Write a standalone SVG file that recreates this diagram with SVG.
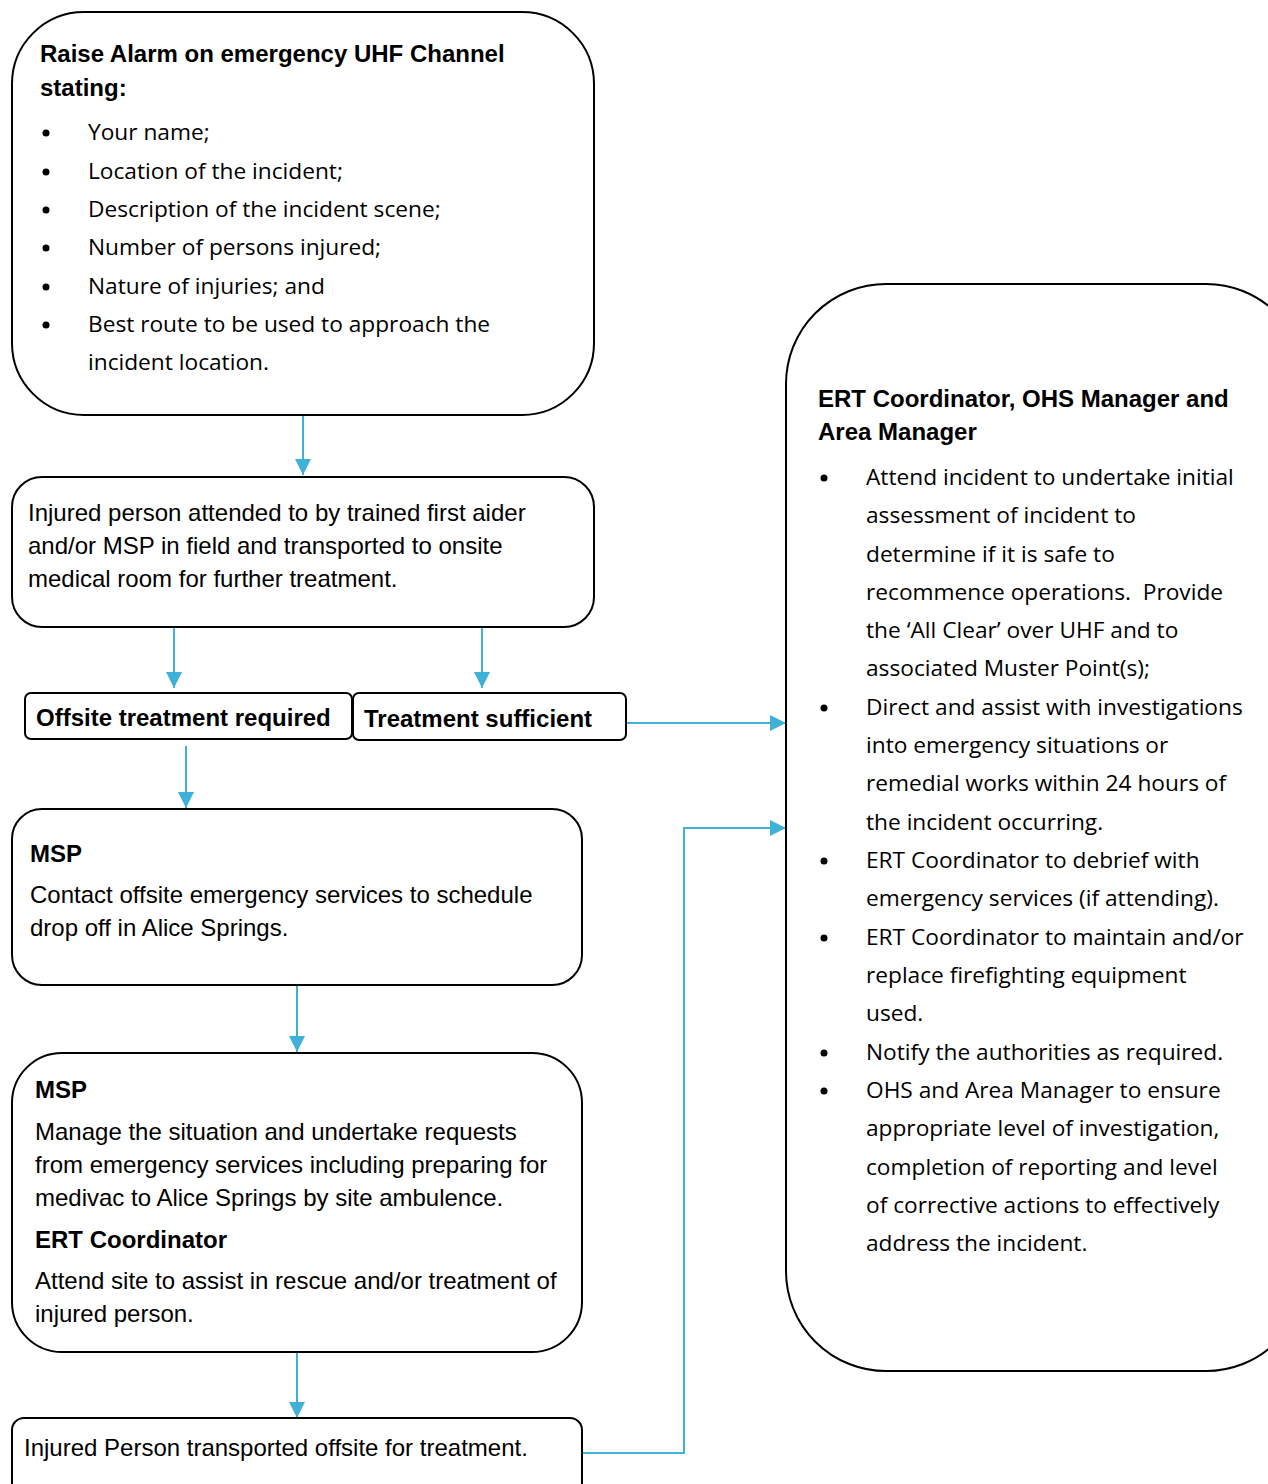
<svg xmlns="http://www.w3.org/2000/svg" width="1268" height="1484" viewBox="0 0 1268 1484">
<defs>
<style>
.box{fill:#fff;stroke:#000;stroke-width:2}
.h{font-family:"Liberation Sans",Arial,sans-serif;font-weight:bold;font-size:24px;fill:#000}
.a{font-family:"Liberation Sans",Arial,sans-serif;font-size:24px;fill:#000}
.s{font-family:"Open Sans","Noto Sans",sans-serif;font-size:22.7px;fill:#000}
.con{fill:none;stroke:#3FB0D8;stroke-width:2}
</style>
<marker id="ah" viewBox="0 0 10 10" refX="10" refY="5" markerWidth="16" markerHeight="16" markerUnits="userSpaceOnUse" orient="auto">
<path d="M0,0 L10,5 L0,10 z" fill="#3FB0D8"/>
</marker>
</defs>
<rect width="1268" height="1484" fill="#fff"/>

<g id="connectors">
<path class="con" d="M303,415 V475" marker-end="url(#ah)"/>
<path class="con" d="M174,620 V688" marker-end="url(#ah)"/>
<path class="con" d="M482,627 V688" marker-end="url(#ah)"/>
<path class="con" d="M626,723 H786" marker-end="url(#ah)"/>
<path class="con" d="M186,746 V808" marker-end="url(#ah)"/>
<path class="con" d="M297,985 V1052" marker-end="url(#ah)"/>
<path class="con" d="M297,1352 V1418" marker-end="url(#ah)"/>
<path class="con" d="M582,1453 H684 V828 H786" marker-end="url(#ah)"/>
</g>

<g id="alarm">
<rect class="box" x="12" y="12" width="582" height="403" rx="72" ry="72"/>
<text class="h" x="40" y="62">Raise Alarm on emergency UHF Channel</text>
<text class="h" x="40" y="96">stating:</text>
<g class="s">
<circle cx="46" cy="133" r="3.5"/><text x="88" y="140">Your name;</text>
<circle cx="46" cy="172" r="3.5"/><text x="88" y="179">Location of the incident;</text>
<circle cx="46" cy="210" r="3.5"/><text x="88" y="217">Description of the incident scene;</text>
<circle cx="46" cy="248" r="3.5"/><text x="88" y="255">Number of persons injured;</text>
<circle cx="46" cy="287" r="3.5"/><text x="88" y="294">Nature of injuries; and</text>
<circle cx="46" cy="325" r="3.5"/><text x="88" y="332">Best route to be used to approach the</text>
<text x="88" y="370">incident location.</text>
</g>
</g>

<g id="attended">
<rect class="box" x="12" y="477" width="582" height="150" rx="30" ry="30"/>
<text class="a" x="28" y="521">Injured person attended to by trained first aider</text>
<text class="a" x="28" y="554">and/or MSP in field and transported to onsite</text>
<text class="a" x="28" y="587">medical room for further treatment.</text>
</g>

<g id="offsite">
<rect class="box" x="25" y="693" width="327" height="46" rx="6" ry="6"/>
<text class="h" x="36" y="726">Offsite treatment required</text>
</g>

<g id="sufficient">
<rect class="box" x="353" y="693" width="273" height="47" rx="6" ry="6"/>
<text class="h" x="364" y="727">Treatment sufficient</text>
</g>

<g id="msp1">
<rect class="box" x="12" y="809" width="570" height="176" rx="30" ry="30"/>
<text class="h" x="30" y="862">MSP</text>
<text class="a" x="30" y="903">Contact offsite emergency services to schedule</text>
<text class="a" x="30" y="936">drop off in Alice Springs.</text>
</g>

<g id="msp2">
<rect class="box" x="12" y="1053" width="570" height="299" rx="50" ry="50"/>
<text class="h" x="35" y="1098">MSP</text>
<text class="a" x="35" y="1140">Manage the situation and undertake requests</text>
<text class="a" x="35" y="1173">from emergency services including preparing for</text>
<text class="a" x="35" y="1206">medivac to Alice Springs by site ambulence.</text>
<text class="h" x="35" y="1248">ERT Coordinator</text>
<text class="a" x="35" y="1289">Attend site to assist in rescue and/or treatment of</text>
<text class="a" x="35" y="1322">injured person.</text>
</g>

<g id="transported">
<rect class="box" x="12" y="1418" width="570" height="80" rx="12" ry="12"/>
<text class="a" x="24" y="1456">Injured Person transported offsite for treatment.</text>
</g>

<g id="ert">
<rect class="box" x="786" y="284" width="520" height="1087" rx="100" ry="100"/>
<text class="h" x="818" y="407">ERT Coordinator, OHS Manager and</text>
<text class="h" x="818" y="440">Area Manager</text>
<g class="s">
<circle cx="824" cy="478" r="3.5"/><text x="866" y="485">Attend incident to undertake initial</text>
<text x="866" y="523">assessment of incident to</text>
<text x="866" y="562">determine if it is safe to</text>
<text x="866" y="600" xml:space="preserve">recommence operations.  Provide</text>
<text x="866" y="638">the ‘All Clear’ over UHF and to</text>
<text x="866" y="676">associated Muster Point(s);</text>
<circle cx="824" cy="708" r="3.5"/><text x="866" y="715">Direct and assist with investigations</text>
<text x="866" y="753">into emergency situations or</text>
<text x="866" y="791">remedial works within 24 hours of</text>
<text x="866" y="830">the incident occurring.</text>
<circle cx="824" cy="861" r="3.5"/><text x="866" y="868">ERT Coordinator to debrief with</text>
<text x="866" y="906">emergency services (if attending).</text>
<circle cx="824" cy="938" r="3.5"/><text x="866" y="945">ERT Coordinator to maintain and/or</text>
<text x="866" y="983">replace firefighting equipment</text>
<text x="866" y="1021">used.</text>
<circle cx="824" cy="1053" r="3.5"/><text x="866" y="1060">Notify the authorities as required.</text>
<circle cx="824" cy="1091" r="3.5"/><text x="866" y="1098">OHS and Area Manager to ensure</text>
<text x="866" y="1136">appropriate level of investigation,</text>
<text x="866" y="1175">completion of reporting and level</text>
<text x="866" y="1213">of corrective actions to effectively</text>
<text x="866" y="1251">address the incident.</text>
</g>
</g>
</svg>
